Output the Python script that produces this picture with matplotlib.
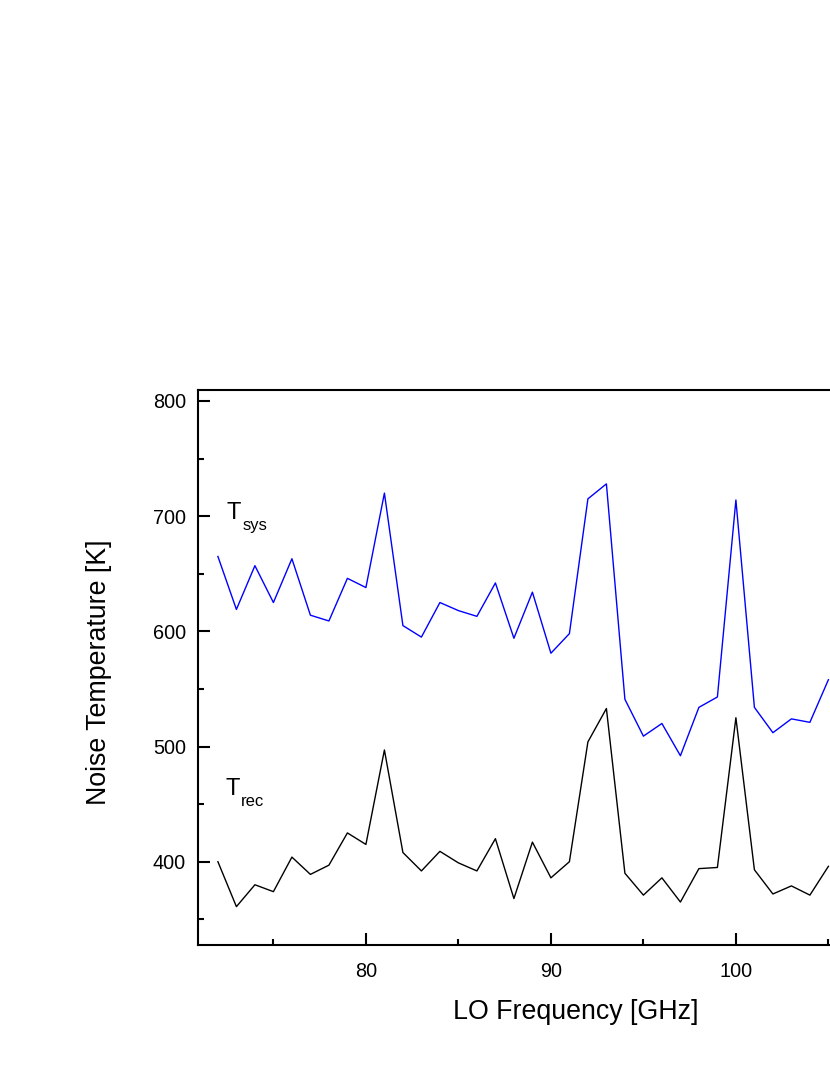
import numpy as np
import matplotlib
matplotlib.use("Agg")
import matplotlib.pyplot as plt
from matplotlib.ticker import MultipleLocator
from matplotlib.transforms import offset_copy

plt.rcParams['font.family'] = ['Liberation Sans', 'DejaVu Sans']

# LO frequency in GHz (points past 105 GHz are outside the picture)
freq = np.arange(72, 106)

# system noise temperature [K]
t_sys = [665, 619, 657, 625, 663, 614, 609, 646, 638, 720,
         605, 595, 625, 618, 613, 642, 594, 634, 581, 598,
         715, 728, 541, 509, 520, 492, 534, 543, 714, 534,
         512, 524, 521, 558]

# receiver noise temperature [K]
t_rec = [400, 361, 380, 374, 404, 389, 397, 425, 415, 497,
         408, 392, 409, 399, 392, 420, 368, 417, 386, 400,
         504, 533, 390, 371, 386, 365, 394, 395, 525, 393,
         372, 379, 371, 396]

fig = plt.figure(figsize=(8.3, 10.75), dpi=100)
# axes runs off the right edge of the page, like the original
ax = fig.add_axes([198.3 / 830, 1 - 945 / 1075, 685.6 / 830, 555 / 1075])

ax.plot(freq, t_sys, color='#0000ff', lw=1.0)
ax.plot(freq, t_rec, color='black', lw=1.0)

ax.set_xlim(70.94, 108)
ax.set_ylim(327.7, 809.5)

ax.xaxis.set_major_locator(MultipleLocator(10))
ax.xaxis.set_minor_locator(MultipleLocator(5))
ax.yaxis.set_major_locator(MultipleLocator(100))
ax.yaxis.set_minor_locator(MultipleLocator(50))

for s in ax.spines.values():
    s.set_linewidth(1.5)
ax.tick_params(which='both', direction='in', width=1.5, labelsize=14.3)
ax.tick_params(which='major', length=8.5)
ax.tick_params(which='minor', length=4.5)
ax.tick_params(axis='x', pad=12.0)
ax.tick_params(axis='y', pad=9.0)

# axis titles
fig.text(575.8 / 830, 1 - 1019 / 1075, 'LO Frequency [GHz]', fontsize=19.3,
         ha='center', va='baseline')
fig.text(99 / 830, 1 - 672 / 1075, 'Noise Temperature [K]', fontsize=19.3,
         rotation=90, ha='center', va='center')

# curve names with subscripts
def label(x, y, sub):
    ax.text(x, y, 'T', fontsize=17, ha='left', va='baseline')
    tr = offset_copy(ax.transData, fig=fig, x=15.6, y=-11.0, units='dots')
    ax.text(x, y, sub, fontsize=12, ha='left', va='baseline', transform=tr)

label(72.49, 697.7, 'sys')
label(72.40, 457.7, 'rec')

fig.savefig('out.png', dpi=100)
